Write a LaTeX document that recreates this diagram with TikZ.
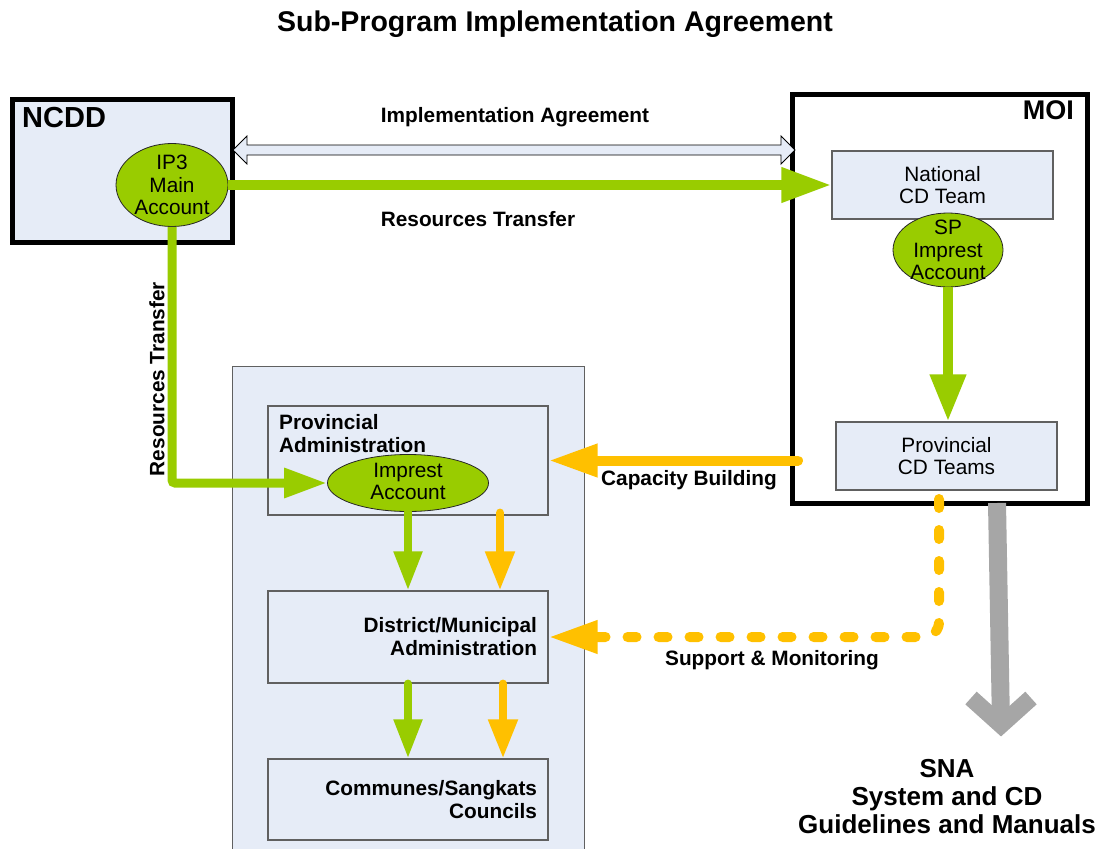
\documentclass[tikz,border=0pt]{standalone}
\usepackage{fontspec}
\setmainfont{Liberation Sans}
\usetikzlibrary{arrows.meta,shapes.geometric,calc}

\definecolor{paleblue}{RGB}{230,236,247}
\definecolor{acgreen}{RGB}{153,204,0}
\definecolor{acorange}{RGB}{255,192,0}
\definecolor{acgray}{RGB}{166,166,166}
\definecolor{boxline}{RGB}{96,96,96}

\begin{document}
\begin{tikzpicture}[x=1pt,y=-1pt,
    every node/.style={font=\fontsize{20.8}{22.5}\selectfont},
    lbl/.style={font=\fontsize{20.8}{23}\selectfont\bfseries},
    orgbox/.style={draw=black,line width=5pt},
    unitbox/.style={draw=boxline,line width=1.2pt,fill=paleblue,minimum width=280pt},
    cdbox/.style={draw=boxline,line width=1.2pt,fill=paleblue,minimum width=221pt,minimum height=68pt,align=center},
    account/.style={ellipse,draw=black!85,line width=0.8pt,fill=acgreen,inner sep=0pt},
    greenflow/.style={draw=acgreen,line width=10pt,-{Triangle[length=50pt,width=33pt]}},
    smallgreen/.style={draw=acgreen,line width=8pt,line cap=round,-{Triangle[length=39pt,width=27pt]}},
    smallorange/.style={draw=acorange,line width=8pt,line cap=round,-{Triangle[length=39pt,width=28pt]}},
    orangeflow/.style={draw=acorange,line width=10pt,line cap=round,-{Triangle[length=49pt,width=31pt]}},
    grayflow/.style={draw=acgray,line width=18pt}
]
    % Rahmen
    \useasboundingbox (0,0) rectangle (1099,848);

    % title
    \node[font=\fontsize{28.5}{30}\selectfont\bfseries] (title) at (555,24) {Sub-Program Implementation Agreement};

    % NCDD and MOI
    \node[orgbox,fill=paleblue,minimum width=220pt,minimum height=143pt] (ncdd) at (122,171) {};
    \node[font=\fontsize{29}{30}\selectfont\bfseries,anchor=base west,inner sep=0pt] (ncddlbl) at (22,128) {NCDD};
    \node[orgbox,fill=white,minimum width=295pt,minimum height=408pt] (moi) at (939.5,299) {};
    \node[font=\fontsize{27}{28}\selectfont\bfseries,anchor=base east,inner sep=0pt] (moilbl) at (1074,120) {MOI};

    % accounts
    \node[account,minimum width=112pt,minimum height=83pt] (ip3) at (172,185) {};
    \node[align=center] (ip3txt) at (ip3) {IP3\\Main\\Account};
    \node[cdbox] (natcd) at (942.5,185) {National\\CD Team};
    \node[account,minimum width=110pt,minimum height=74pt] (spacc) at (948,250) {};
    \node[align=center] (spacctxt) at (spacc) {SP\\Imprest\\Account};
    \node[cdbox] (provcd) at (946.5,456) {Provincial\\CD Teams};

    % sub-national panel
    \draw[draw=boxline,line width=1pt,fill=paleblue] (232,366) rectangle (584,870);
    \node[unitbox,minimum height=109pt] (provadm) at (408,460.5) {};
    \node[lbl,anchor=north west,align=left,inner sep=0pt] (provadmtxt) at (279,414) {Provincial\\Administration};
    \node[account,minimum width=161pt,minimum height=57pt] (impacc) at (408,483) {};
    \node[align=center] (impacctxt) at (408,481.5) {Imprest\\Account};
    \node[unitbox,lbl,minimum height=92pt,text width=258pt,align=right] (distadm) at (408,637) {District/Municipal\\Administration};
    \node[unitbox,lbl,minimum height=81pt,text width=258pt,align=right] (communes) at (408,799.5) {Communes/Sangkats\\Councils};

    % agreement arrow
    \coordinate (iaL) at (233,150);
    \coordinate (iaR) at (795,150);
    \draw[draw=black,line width=0.8pt,fill=paleblue] (iaL) -- ++(14,-14) -- ++(0,9) -- ($(iaR)+(-14,-5)$) -- ++(0,-9) -- (iaR)
        -- ++(-14,14) -- ++(0,-9) -- ($(iaL)+(14,5)$) -- ++(0,9) -- cycle;
    \node[lbl] (agreelbl) at (515,117) {Implementation Agreement};

    % resources
    \draw[greenflow] (ip3.east) -- (natcd.west);
    \node[lbl] (reslbl) at (478,219) {Resources Transfer};
    \draw[greenflow,line width=9pt,rounded corners=3pt,-{Triangle[length=43pt,width=28pt]}] (ip3.south) |- (impacc.west);
    \node[lbl,rotate=90] (reslbl2) at (157,379) {Resources Transfer};
    \draw[greenflow,-{Triangle[length=47pt,width=34pt]}] (spacc.south) -- (spacc.south |- provcd.north);

    % capacity building, support
    \coordinate (capstart) at (798,460.5);
    \draw[orangeflow] (capstart) -- (provadm.east);
    \node[lbl] (caplbl) at (689,480) {Capacity Building};
    \coordinate (supstart) at (939,499);
    \draw[orangeflow,dash pattern=on 9pt off 22pt,rounded corners=15pt] (supstart) |- (distadm.east);
    \node[lbl] (suplbl) at (772,660) {Support \& Monitoring};

    % down the levels
    \draw[smallgreen] (impacc.south) -- (impacc.south |- distadm.north);
    \draw[smallorange] ($(provadm.south)+(92,-3)$) -- ($(distadm.north)+(92,0)$);
    \draw[smallgreen] (distadm.south) -- (communes.north);
    \draw[smallorange] ($(distadm.south)+(95,0)$) -- ($(communes.north)+(95,0)$);

    % SNA
    \coordinate (graystart) at (997,503);
    \coordinate (graytip) at (1001,725);
    \draw[grayflow] (graystart) -- (graytip);
    \draw[grayflow,line width=17pt,line join=miter] ($(graytip)+(-30,-27)$) -- (graytip) -- ($(graytip)+(30,-27)$);
    \node[font=\fontsize{26}{28}\selectfont\bfseries,align=center] (sna) at (947,797) {SNA\\System and CD\\Guidelines and Manuals};
\end{tikzpicture}
\end{document}
